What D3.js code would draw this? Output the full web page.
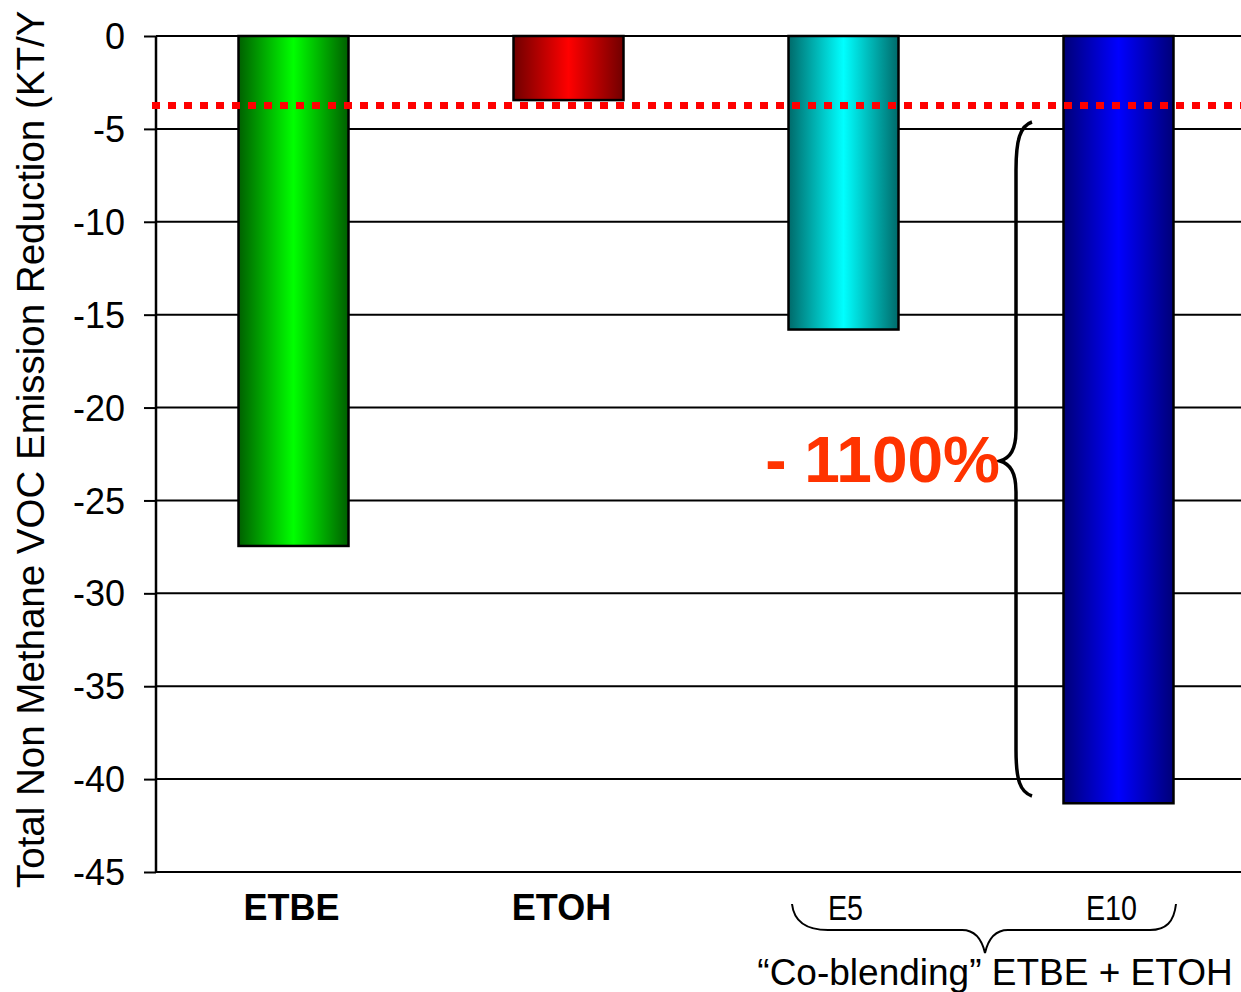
<!DOCTYPE html>
<html>
<head>
<meta charset="utf-8">
<script src="https://cdn.jsdelivr.net/npm/d3@7"></script>
<style>
  html, body { margin: 0; padding: 0; background: #fff; overflow: hidden; }
  svg { display: block; font-family: "Liberation Sans", Arial, sans-serif; }
</style>
</head>
<body>
<svg id="chart" width="1241" height="992"></svg>
<script>
// Emission reduction per fuel option (KT/Y)
const categories = ["ETBE", "ETOH", "E5", "E10"];
const values = [-27.45, -3.45, -15.8, -41.3];
const barBright = ["#00ff00", "#ff0000", "#00ffff", "#0000ff"];
const barDark = ["#006000", "#700000", "#006a6a", "#000078"];
const yTicks = [0, -5, -10, -15, -20, -25, -30, -35, -40, -45];
const referenceLevel = -3.74;
const changeLabel = "- 1100%";
const yTitle = "Total Non Methane VOC Emission Reduction (KT/Y";
const groupLabel = "\u201cCo-blending\u201d ETBE + ETOH";

const svg = d3.select("#chart");

const x = d3.scaleBand()
  .domain(categories)
  .range([156, 1256])
  .paddingInner(0.6)
  .paddingOuter(0.3);

const y = d3.scaleLinear().domain([-45, 0]).range([872, 36]);

// Horizontal gradients for the bars
const defs = svg.append("defs");
categories.forEach((c, i) => {
  const g = defs.append("linearGradient")
    .attr("id", "grad" + i)
    .attr("x1", "0%").attr("x2", "100%").attr("y1", "0%").attr("y2", "0%");
  g.append("stop").attr("offset", "0%").attr("stop-color", barDark[i]);
  g.append("stop").attr("offset", "50%").attr("stop-color", barBright[i]);
  g.append("stop").attr("offset", "100%").attr("stop-color", barDark[i]);
});

// Gridlines
svg.append("g")
  .selectAll("line")
  .data(yTicks)
  .join("line")
  .attr("x1", 156).attr("x2", 1256)
  .attr("y1", d => y(d)).attr("y2", d => y(d))
  .attr("stroke", "#000").attr("stroke-width", 2);

// Y axis
const yAxis = svg.append("g")
  .attr("transform", "translate(156,0)")
  .call(d3.axisLeft(y).tickValues(yTicks).tickSize(12).tickPadding(19).tickFormat(d => String(d)));
yAxis.select(".domain").attr("stroke", "#000").attr("stroke-width", 2.5).attr("d", `M0,${y(0)}V${y(-45)}`);
yAxis.selectAll(".tick line").attr("stroke", "#000").attr("stroke-width", 2);
yAxis.selectAll(".tick text")
  .attr("fill", "#000")
  .style("font-size", "36px")
  .style("font-family", "'Liberation Sans', Arial, sans-serif")
  .attr("dy", "0.35em");

// Bars
svg.append("g")
  .selectAll("rect")
  .data(values)
  .join("rect")
  .attr("x", (d, i) => x(categories[i]))
  .attr("width", x.bandwidth())
  .attr("y", d => y(Math.max(0, d)))
  .attr("height", d => Math.abs(y(d) - y(0)))
  .attr("fill", (d, i) => `url(#grad${i})`)
  .attr("stroke", "#000")
  .attr("stroke-width", 2.5);

// Reference dotted line
svg.append("line")
  .attr("x1", 152).attr("x2", 1241)
  .attr("y1", y(referenceLevel)).attr("y2", y(referenceLevel))
  .attr("stroke", "#ff0000")
  .attr("stroke-width", 7)
  .attr("stroke-dasharray", "8,8");

// Y axis title
svg.append("text")
  .attr("transform", "translate(44,888) rotate(-90)")
  .attr("text-anchor", "start")
  .style("font-size", "38.5px")
  .attr("fill", "#000")
  .text(yTitle);

// Category labels
const boldOffset = { ETBE: -2, ETOH: -7 };
svg.append("g")
  .selectAll("text")
  .data(categories.slice(0, 2))
  .join("text")
  .attr("x", d => x(d) + x.bandwidth() / 2 + boldOffset[d])
  .attr("y", 920)
  .attr("text-anchor", "middle")
  .style("font-size", "36px")
  .style("font-weight", "bold")
  .attr("fill", "#000")
  .text(d => d);

// Narrow labels for the co-blending options
const narrowOffset = { E5: 2, E10: -7 };
svg.append("g")
  .selectAll("text")
  .data(categories.slice(2))
  .join("text")
  .attr("transform", d => `translate(${x(d) + x.bandwidth() / 2 + narrowOffset[d]},920) scale(0.82,1)`)
  .attr("text-anchor", "middle")
  .style("font-size", "35px")
  .attr("fill", "#000")
  .text(d => d);

// Horizontal brace grouping E5 and E10
svg.append("path")
  .attr("d", "M792,904 C794,922 806,930 828,930 L962,930 C976,930 982,940 985,953 C988,940 994,930 1008,930 L1150,930 C1166,930 1174,922 1176,904")
  .attr("fill", "none")
  .attr("stroke", "#000")
  .attr("stroke-width", 2);

svg.append("text")
  .attr("x", 995)
  .attr("y", 985)
  .attr("text-anchor", "middle")
  .style("font-size", "37px")
  .attr("fill", "#000")
  .text(groupLabel);

// Vertical brace spanning the E10 bar
svg.append("path")
  .attr("d", "M1032,122 C1020,126 1016,140 1016,170 L1016,430 C1016,450 1010,458 1000,461 C1010,464 1016,472 1016,492 L1016,750 C1016,780 1020,792 1032,796")
  .attr("fill", "none")
  .attr("stroke", "#000")
  .attr("stroke-width", 3.5);

// Change annotation
svg.append("text")
  .attr("x", 1000)
  .attr("y", 482)
  .attr("text-anchor", "end")
  .style("font-size", "64px")
  .style("font-weight", "bold")
  .attr("fill", "#ff3300")
  .text(changeLabel);
</script>
</body>
</html>
